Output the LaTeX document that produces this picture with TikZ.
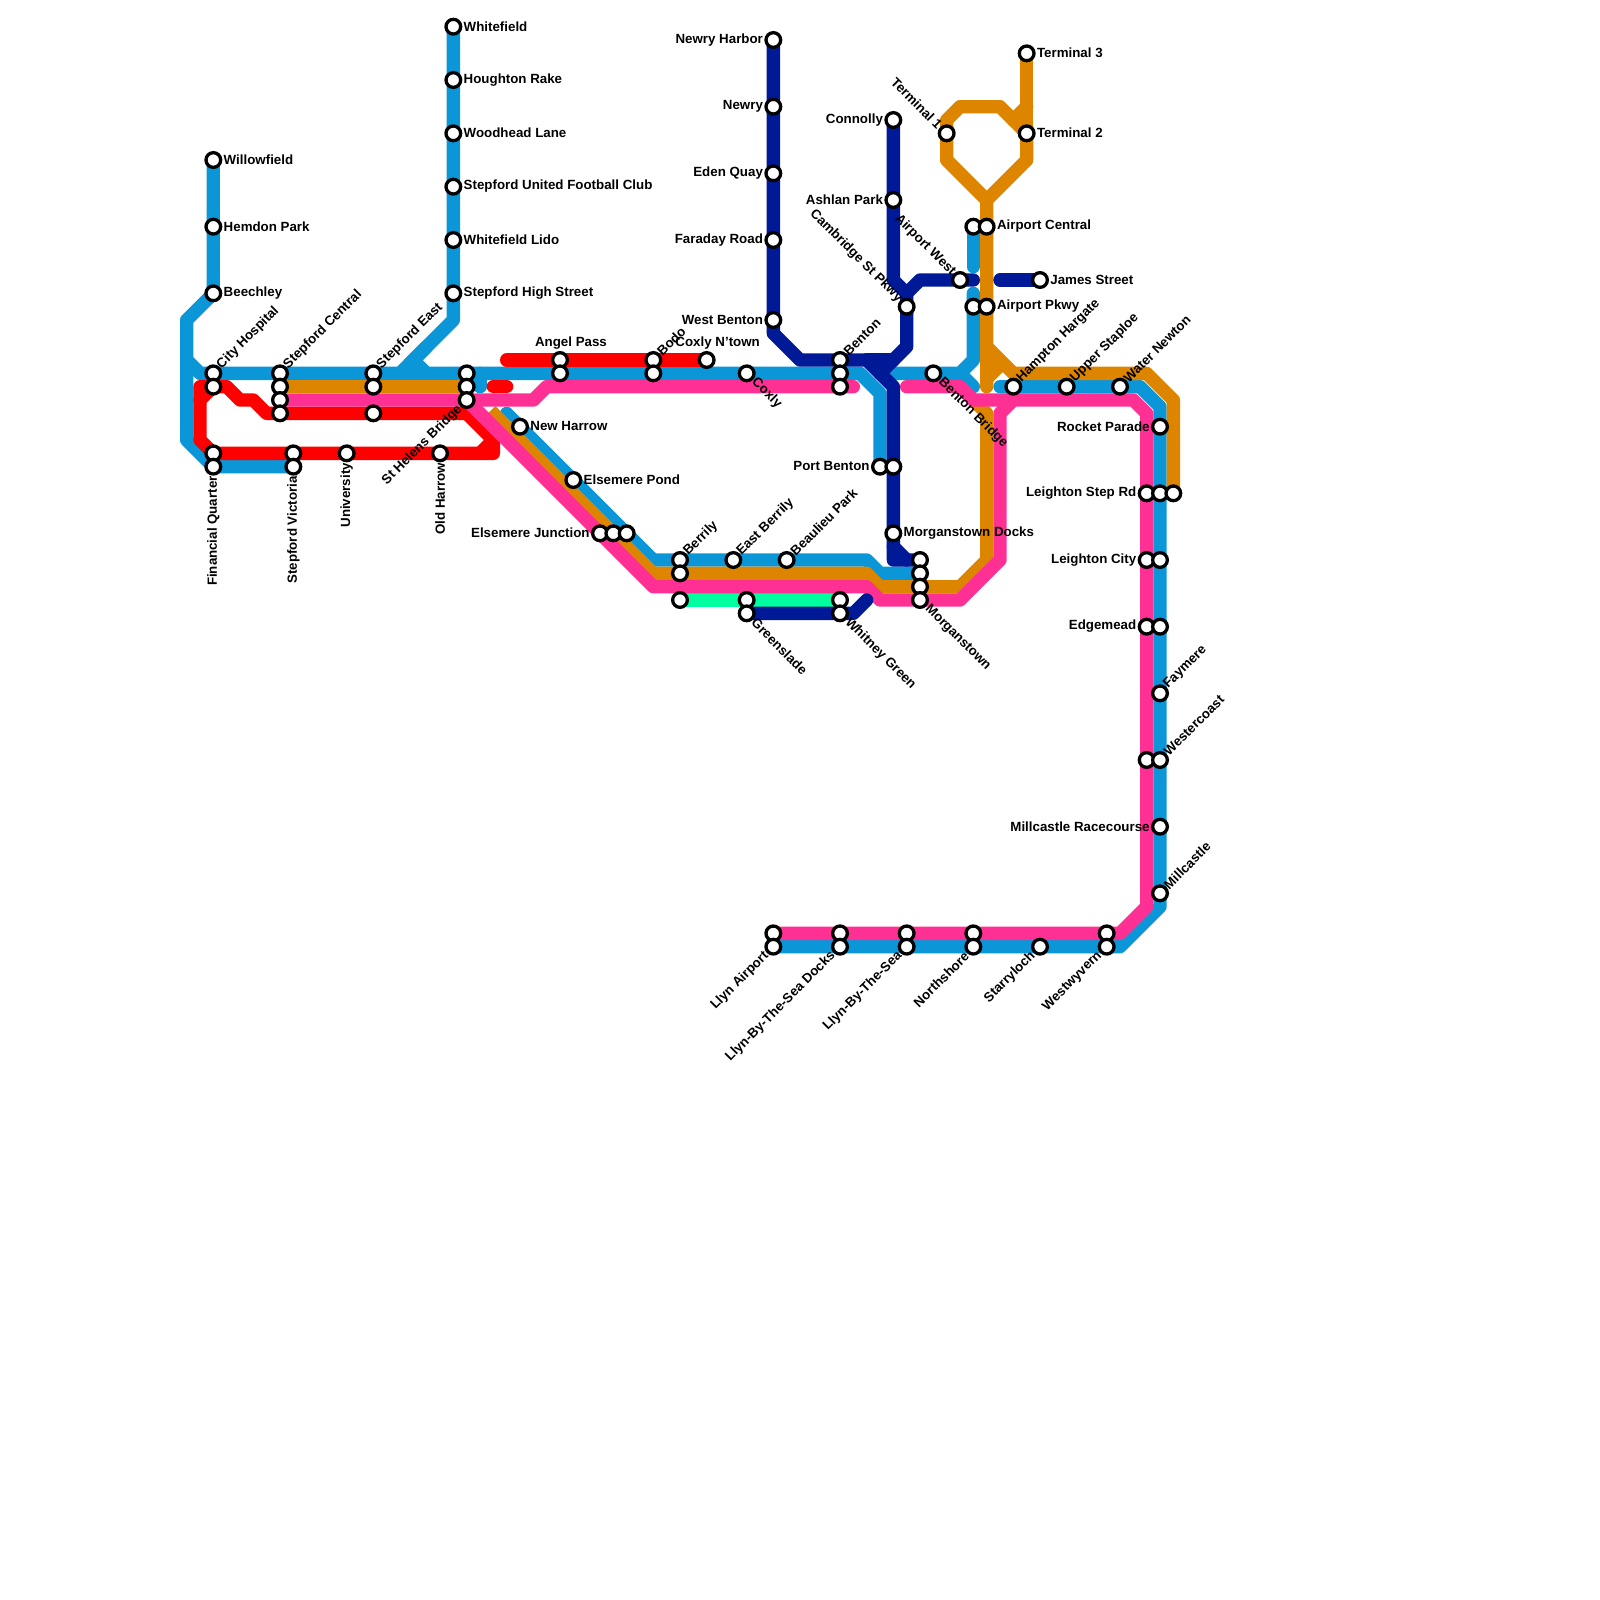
\documentclass[tikz,border=0pt]{standalone}
\usepackage{fontspec}
\usepackage{xcolor}
\setmainfont{Liberation Sans}
\definecolor{LineBlue}{HTML}{0B96D7}
\definecolor{LineNavy}{HTML}{001996}
\definecolor{LineOrange}{HTML}{DE8500}
\definecolor{LinePink}{HTML}{FF3093}
\definecolor{LineRed}{HTML}{FF0000}
\definecolor{LineGreen}{HTML}{00FF9E}
\tikzset{
  metro line/.style={line width=0.1333cm, line cap=round, line join=round},
  metro stop/.style={
    circle, draw=black, fill=white, line width=0.033cm,
    minimum size=0.147cm, inner sep=0pt
  },
  metro text/.style={
    font=\fontsize{3.79}{4.5}\selectfont\bfseries, inner sep=0pt, text=black
  },
  to e/.style={metro text, anchor=west, xshift=0.097cm, yshift=0.003cm},
  to w/.style={metro text, anchor=east, xshift=-0.097cm, yshift=0.003cm},
  to n/.style={metro text, anchor=south, xshift=0.11cm, yshift=0.10cm},
  to ne/.style={metro text, anchor=west, rotate=45, xshift=0.082cm, yshift=0.005cm},
  to se/.style={metro text, anchor=west, rotate=-45, xshift=0.095cm},
  to sw/.style={metro text, anchor=east, rotate=45, xshift=-0.093cm, yshift=-0.004cm},
  to nw/.style={metro text, anchor=east, rotate=-45, xshift=-0.087cm},
  to s/.style={metro text, anchor=east, rotate=90, xshift=-0.09cm}
}
\begin{document}
\begin{tikzpicture}[x=0.13333cm, y=-0.13333cm]
  \useasboundingbox (0,0) rectangle (120,120);

  % lines
  \draw[metro line, LineGreen] (51,45) -- (63,45);

  \draw[metro line, LineBlue] (16,12) -- (16,22) -- (14,24) -- (14,33) -- (16,35) -- (22,35);
  \draw[metro line, LineBlue] (14,27) -- (15,28) -- (64.5,28) -- (66,29.5) -- (66,35);
  \draw[metro line, LineBlue] (34,2) -- (34,24) -- (30,28);
  \draw[metro line, LineBlue, line join=miter] (32,26) -- (31,27) -- (32,28);
  \draw[metro line, LineBlue] (36,28) -- (36,29);
  \draw[metro line, LineBlue] (38,31) -- (49,42) -- (65,42) -- (66,43) -- (69,43);
  \draw[metro line, LineBlue] (73,17) -- (73,20);
  \draw[metro line, LineBlue] (73,22) -- (73,27) -- (72,28) -- (66,28);
  \draw[metro line, LineBlue] (72,28) -- (73,29);
  \draw[metro line, LineBlue] (75,29) -- (85.5,29) -- (87,30.5) -- (87,68) -- (84,71) -- (58,71);

  \draw[metro line, LineRed] (16,29) -- (15,30);
  \draw[metro line, LineRed] (37,34) -- (16,34) -- (15,33) -- (15,29) -- (17,29) -- (18,30)
    -- (19,30) -- (20,31) -- (35,31) -- (37,33) -- (37,34);
  \draw[metro line, LineRed] (37,33) -- (36,34);
  \draw[metro line, LineRed] (37,29) -- (38,29);
  \draw[metro line, LineRed] (38,27) -- (53,27);

  \draw[metro line, LineOrange] (21,29) -- (35,29);
  \draw[metro line, LineOrange, line cap=butt] (36.8,30.8) -- (49,43) -- (65,43) -- (66,44)
    -- (72,44) -- (74,42) -- (74,31) -- (73,30);
  \draw[metro line, LineOrange] (77,4) -- (77,12);
  \draw[metro line, LineOrange] (77,8) -- (76,9);
  \draw[metro line, LineOrange] (74,29) -- (74,15) -- (71,12) -- (71,9) -- (72,8) -- (75,8)
    -- (77,10) -- (77,12) -- (74,15);
  \draw[metro line, LineOrange] (74,26) -- (76,28) -- (86,28) -- (88,30) -- (88,37);
  \draw[metro line, LineOrange] (74,28.4) -- (75,27.4);

  \draw[metro line, LinePink] (21,30) -- (40,30) -- (41,29) -- (64,29);
  \draw[metro line, LinePink] (35,30) -- (49,44) -- (65,44) -- (66,45) -- (72,45) -- (75,42)
    -- (75,31) -- (76,30) -- (85,30) -- (86,31) -- (86,68) -- (84,70) -- (58,70);
  \draw[metro line, LinePink] (68,29) -- (72,29) -- (73,30) -- (76,30);

  \draw[metro line, LineNavy] (58,3) -- (58,25) -- (60,27) -- (65,27) -- (67,29) -- (67,42) -- (69,42);
  \draw[metro line, LineNavy] (67,41) -- (68,42);
  \draw[metro line, LineNavy] (67,9) -- (67,21) -- (68,22) -- (68,26) -- (66,28);
  \draw[metro line, LineNavy] (65,27) -- (67,27);
  \draw[metro line, LineNavy] (68,22) -- (69,21) -- (73,21);
  \draw[metro line, LineNavy] (75,21) -- (78,21);
  \draw[metro line, LineNavy] (56,46) -- (64,46) -- (65,45);

  % stops
  \foreach \name/\px/\py in {
    willowfield/16/12, hemdon/16/17, beechley/16/22, cityA/16/28, cityB/16/29,
    finA/16/34, finB/16/35, centralA/21/28, centralB/21/29, centralC/21/30, centralD/21/31,
    victoriaA/22/34, victoriaB/22/35, university/26/34, eastA/28/28, eastB/28/29, eastC/28/31,
    oldharrow/33/34, whitefield/34/2, houghton/34/6, woodhead/34/10, united/34/14,
    lido/34/18, highstreet/34/22, helensA/35/28, helensB/35/29, helensC/35/30,
    newharrow/39/32, angelA/42/27, angelB/42/28, pond/43/36, junctionA/45/40,
    junctionB/46/40, junctionC/47/40, bodoA/49/27, bodoB/49/28, berrilyA/51/42,
    berrilyB/51/43, berrilyC/51/45, northtown/53/27, eberrily/55/42, coxly/56/28,
    greensA/56/45, greensB/56/46, harbor/58/3, newry/58/8, eden/58/13, faraday/58/18,
    westbenton/58/24, llynair/58/70, llynairB/58/71, beaulieu/59/42, bentonA/63/27,
    bentonB/63/28, bentonC/63/29, whitneyA/63/45, whitneyB/63/46, docksA/63/70, docksB/63/71,
    portA/66/35, portB/67/35, connolly/67/9, ashlan/67/15, mdocks/67/40, cambridge/68/23,
    seaA/68/70, seaB/68/71, mtownA/69/42, mtownB/69/43, mtownC/69/44, mtownD/69/45,
    bridge/70/28, termA/71/10, airwest/72/21, acentA/73/17, acentB/74/17, apkwyA/73/23,
    apkwyB/74/23, northA/73/70, northB/73/71, hampton/76/29, termB/77/10, termC/77/4,
    james/78/21, starry/78/71, upper/80/29, westwA/83/70, westwB/83/71, water/84/29,
    rocket/87/32, stepA/86/37, stepB/87/37, stepC/88/37, cityleA/86/42, cityleB/87/42,
    edgeA/86/47, edgeB/87/47, faymere/87/52, coastA/86/57, coastB/87/57, race/87/62,
    millcastle/87/67}
    \node[metro stop] (\name) at (\px,\py) {};

  % labels
  \node[to e] at (willowfield) {Willowfield};
  \node[to e] at (hemdon) {Hemdon Park};
  \node[to e] at (beechley) {Beechley};
  \node[to ne] at (cityA) {City Hospital};
  \node[to s] at (finB) {Financial Quarter};
  \node[to ne] at (centralA) {Stepford Central};
  \node[to s] at (victoriaB) {Stepford Victoria};
  \node[to s] at (university) {University};
  \node[to ne] at (eastA) {Stepford East};
  \node[to s] at (oldharrow) {Old Harrow};
  \node[to e] at (whitefield) {Whitefield};
  \node[to e] at (houghton) {Houghton Rake};
  \node[to e] at (woodhead) {Woodhead Lane};
  \node[to e] at (united) {Stepford United Football Club};
  \node[to e] at (lido) {Whitefield Lido};
  \node[to e] at (highstreet) {Stepford High Street};
  \node[to sw] at (helensC) {St Helens Bridge};
  \node[to e] at (newharrow) {New Harrow};
  \node[to n] at (angelA) {Angel Pass};
  \node[to e] at (pond) {Elsemere Pond};
  \node[to w] at (junctionA) {Elsemere Junction};
  \node[to ne] at (bodoA) {Bodo};
  \node[to ne] at (berrilyA) {Berrily};
  \node[to n] at (northtown) {Coxly N'town};
  \node[to ne] at (eberrily) {East Berrily};
  \node[to se] at (coxly) {Coxly};
  \node[to se] at (greensB) {Greenslade};
  \node[to w] at (harbor) {Newry Harbor};
  \node[to w] at (newry) {Newry};
  \node[to w] at (eden) {Eden Quay};
  \node[to w] at (faraday) {Faraday Road};
  \node[to w] at (westbenton) {West Benton};
  \node[to sw] at (llynairB) {Llyn Airport};
  \node[to ne] at (beaulieu) {Beaulieu Park};
  \node[to ne] at (bentonA) {Benton};
  \node[to se] at (whitneyB) {Whitney Green};
  \node[to sw] at (docksB) {Llyn-By-The-Sea Docks};
  \node[to w] at (portA) {Port Benton};
  \node[to w] at (connolly) {Connolly};
  \node[to w] at (ashlan) {Ashlan Park};
  \node[to e] at (mdocks) {Morganstown Docks};
  \node[to nw] at (cambridge) {Cambridge St Pkwy};
  \node[to sw] at (seaB) {Llyn-By-The-Sea};
  \node[to se] at (mtownD) {Morganstown};
  \node[to se] at (bridge) {Benton Bridge};
  \node[to nw] at (termA) {Terminal 1};
  \node[to nw] at (airwest) {Airport West};
  \node[to e] at (acentB) {Airport Central};
  \node[to e] at (apkwyB) {Airport Pkwy};
  \node[to sw] at (northB) {Northshore};
  \node[to ne] at (hampton) {Hampton Hargate};
  \node[to e] at (termB) {Terminal 2};
  \node[to e] at (termC) {Terminal 3};
  \node[to e] at (james) {James Street};
  \node[to sw] at (starry) {Starryloch};
  \node[to ne] at (upper) {Upper Staploe};
  \node[to sw] at (westwB) {Westwyvern};
  \node[to ne] at (water) {Water Newton};
  \node[to w] at (rocket) {Rocket Parade};
  \node[to w] at (stepA) {Leighton Step Rd};
  \node[to w] at (cityleA) {Leighton City};
  \node[to w] at (edgeA) {Edgemead};
  \node[to ne] at (faymere) {Faymere};
  \node[to ne] at (coastB) {Westercoast};
  \node[to w] at (race) {Millcastle Racecourse};
  \node[to ne] at (millcastle) {Millcastle};
\end{tikzpicture}
\end{document}
